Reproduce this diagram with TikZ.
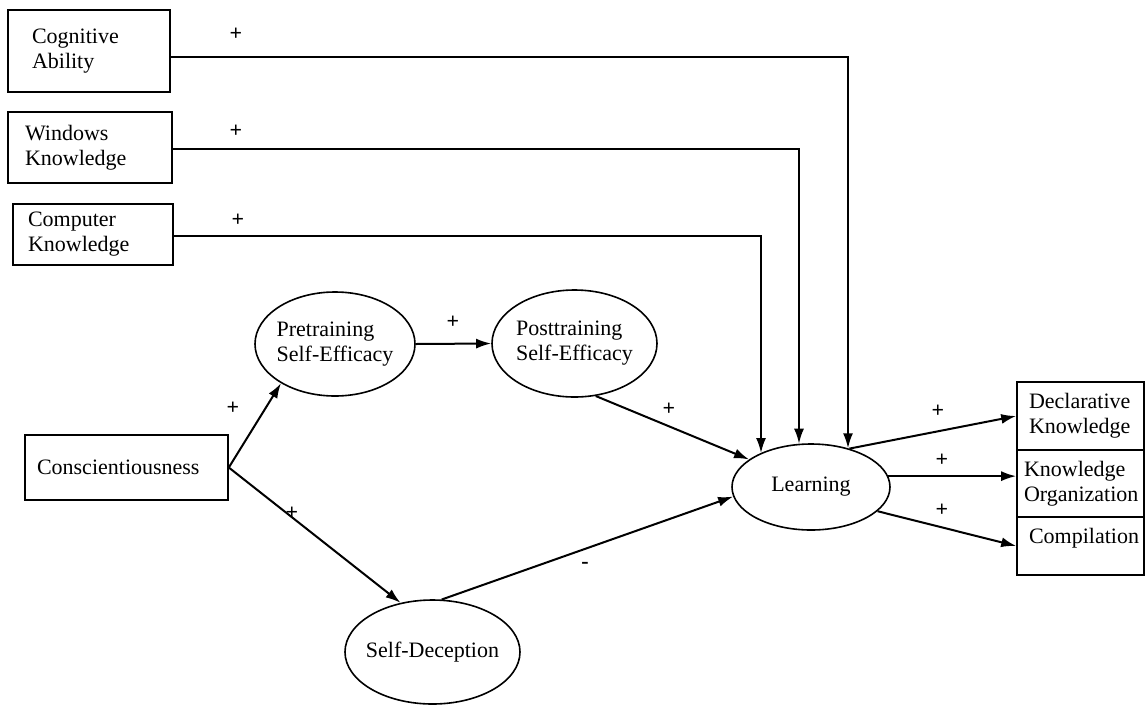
\documentclass[tikz,border=0pt]{standalone}
\usepackage{fontspec}
\setmainfont{Liberation Serif}
\usetikzlibrary{shapes.geometric,arrows.meta}
\begin{document}
\begin{tikzpicture}[x=1pt,y=-1pt,
  every node/.style={font=\fontsize{22}{25}\selectfont},
  box/.style={draw, rectangle, line width=1.6pt, inner sep=0pt, align=left},
  oval/.style={draw, ellipse, line width=1.6pt, inner xsep=-25pt, inner ysep=-10pt, align=left},
  arr/.style={line width=2pt, -{Latex[length=15pt,width=10pt]}},
  sign/.style={inner sep=0pt, font=\fontsize{22}{22}\selectfont\bfseries}]
\useasboundingbox (0,0) rectangle (1146,705);

% boxes
\node[box, minimum width=162pt, minimum height=82pt, text width=114pt] (cog) at (89,51) {Cognitive\\Ability};
\node[box, minimum width=164pt, minimum height=71pt, text width=130pt] (win) at (90,147.5) {Windows\\Knowledge};
\node[box, minimum width=160pt, minimum height=61pt, text width=130pt] (comp) at (93,234.5) {Computer\\Knowledge};
\node[box, minimum width=203pt, minimum height=65pt, text width=179pt] (cons) at (126.5,467.5) {Conscientiousness};

\node[box, minimum width=127pt, minimum height=68pt, text width=103pt] (decl) at (1080.5,416) {Declarative\\Knowledge};
\node[box, minimum width=127pt, minimum height=67pt, text width=113pt] (ko) at (1080.5,483.5) {Knowledge\\Organization};
\node[box, minimum width=127pt, minimum height=58pt, text width=103pt, text depth=21pt] (cmp) at (1080.5,546) {Compilation};

% ellipses
\node[oval, minimum width=160pt, minimum height=104pt] (pre) at (335,344) {Pretraining\\Self-Efficacy};
\node[oval, minimum width=165pt, minimum height=107pt] (post) at (574.5,343.5) {Posttraining\\Self-Efficacy};
\node[oval, minimum width=158pt, minimum height=86pt] (learn) at (811,487) {Learning};
\node[oval, minimum width=175pt, minimum height=104pt] (sd) at (432.5,652) {Self-Deception};

% elbow connectors from top boxes
\coordinate (t1) at (848,57);
\coordinate (t2) at (799,149);
\coordinate (t3) at (761,236);
\draw[arr] (cog.east |- t1) -- (t1) -- (t1 |- learn.46);
\draw[arr] (win.east |- t2) -- (t2) -- (t2 |- learn.106);
\draw[arr] (comp.east |- t3) -- (t3) -- (t3 |- learn.146);

% other connectors
\draw[arr] (cons.east) -- (pre.216);
\draw[arr] (cons.east) -- (sd.123);
\draw[arr] (pre.east) -- (post.west);
\draw[arr] (post.-68) -- (learn.156);
\draw[arr] (sd.80) -- (learn.187);
\draw[arr] (learn.45) -- (decl.west);
\draw[arr] (learn.8) -- (learn.8 -| ko.west);
\draw[arr] (learn.-20) -- (cmp.west);

% signs
\node[sign] (s1) at (236,34) {+};
\node[sign] (s2) at (236,131) {+};
\node[sign] (s3) at (238,220) {+};
\node[sign] (s4) at (453,322) {+};
\node[sign] (s5) at (233,408) {+};
\node[sign] (s6) at (292,513) {+};
\node[sign] (s7) at (669,409) {+};
\node[sign] (s8) at (585,565) {-};
\node[sign] (s9) at (938,411) {+};
\node[sign] (s10) at (942,460) {+};
\node[sign] (s11) at (942,510) {+};
\end{tikzpicture}
\end{document}
